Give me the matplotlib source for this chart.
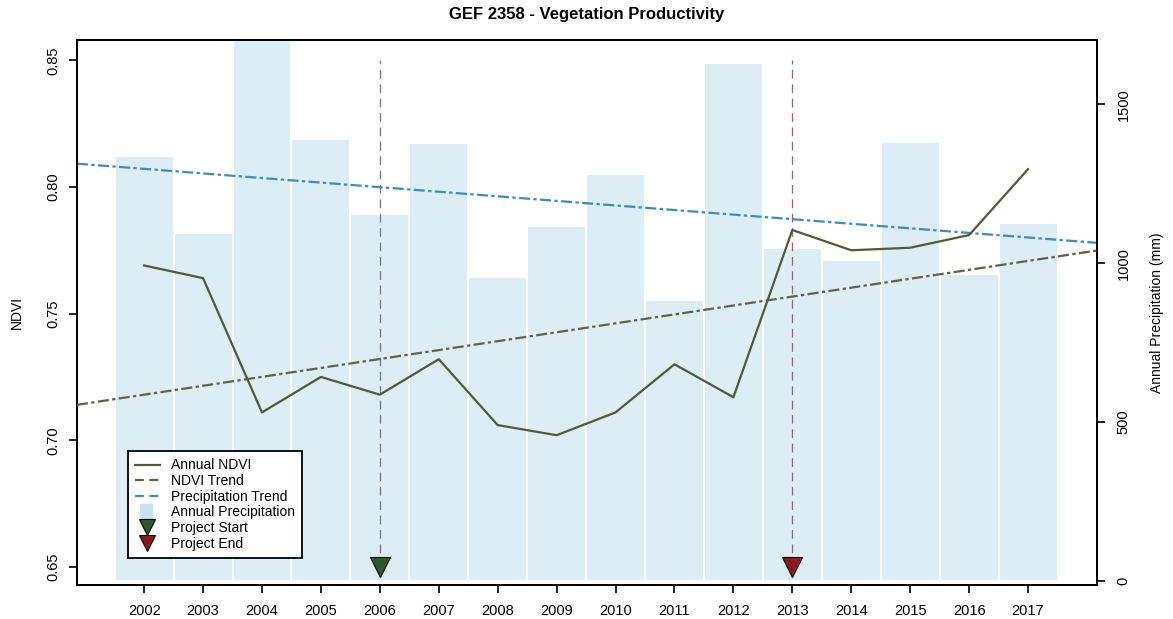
import matplotlib
matplotlib.use("Agg")
import matplotlib.pyplot as plt
from matplotlib.lines import Line2D
from matplotlib.patches import Patch, Rectangle
from matplotlib.legend_handler import HandlerPatch
import numpy as np

plt.rcParams['font.family'] = ['Liberation Sans', 'DejaVu Sans']

# data
years = [2002, 2003, 2004, 2005, 2006, 2007, 2008, 2009,
         2010, 2011, 2012, 2013, 2014, 2015, 2016, 2017]
ndvi = [0.769, 0.764, 0.711, 0.725, 0.718, 0.732, 0.706, 0.702,
        0.711, 0.730, 0.717, 0.783, 0.775, 0.776, 0.781, 0.807]
precip = [1339, 1096, 1760, 1392, 1156, 1377, 957, 1118,
          1282, 884, 1629, 1048, 1010, 1383, 966, 1127]

# trend lines: value in 2002 and slope per year
ndvi_trend = (0.718, 0.00352)
precip_trend = (1297, -14.4)

project_start = 2006
project_end = 2013

ndvi_col = '#4f5c36'
trend_col = '#5f6446'
rain_col = '#3a8dbf'
bar_col = '#dcedf5'

fig = plt.figure(figsize=(11.73, 6.19), dpi=100)
ax = fig.add_axes([0.0656, 0.055, 0.8696, 0.880])
ax2 = ax.twinx()

# precipitation bars behind everything
ax2.bar(years, precip, width=1.0, color=bar_col, edgecolor='white', linewidth=1.5, zorder=1)
ax2.axline((2002, precip_trend[0]), slope=precip_trend[1], color=rain_col, lw=1.6,
           dashes=(5, 1.5, 1.5, 1.5), zorder=3)
ax2.set_ylim(-13, 1702)
ax2.set_yticks([0, 500, 1000, 1500])
ax2.set_ylabel('Annual Precipitation (mm)', fontsize=10, labelpad=14)

ax.set_zorder(ax2.get_zorder() + 1)
ax.patch.set_visible(False)

ax.plot(years, ndvi, color=ndvi_col, lw=1.6, zorder=4)
ax.axline((2002, ndvi_trend[0]), slope=ndvi_trend[1], color=trend_col, lw=1.6,
          dashes=(5, 1.5, 1.5, 1.5), zorder=3)

ax.plot([project_start, project_start], [0.65, 0.85], color='#777777', lw=0.9,
        dashes=(7, 4.5), zorder=2)
ax.plot([project_end, project_end], [0.65, 0.85], color='#9c6470', lw=0.9,
        dashes=(7, 4.5), zorder=2)
ax.plot([project_start], [0.65], marker='v', ms=14, color='#2b5a2b', mec='black', mew=0.8, ls='none', zorder=5)
ax.plot([project_end], [0.65], marker='v', ms=14, color='#8b1a1f', mec='black', mew=0.8, ls='none', zorder=5)

ax.set_xlim(2000.86, 2018.17)
ax.set_ylim(0.6429, 0.8579)
ax.set_xticks(years)
ax.set_yticks([0.65, 0.70, 0.75, 0.80, 0.85])
ax.set_yticklabels(['0.65', '0.70', '0.75', '0.80', '0.85'])
ax.set_ylabel('NDVI', fontsize=10, labelpad=16)
ax.set_title('GEF 2358 - Vegetation Productivity', fontsize=12, fontweight='bold', pad=15)

for a in (ax, ax2):
    a.tick_params(direction='out', length=6, width=1.2, labelsize=10.5)
    for s in a.spines.values():
        s.set_linewidth(1.3)
ax.tick_params(axis='x', pad=8)
ax.tick_params(axis='y', pad=6)
ax2.tick_params(axis='y', pad=8)
for lab in ax.get_yticklabels():
    lab.set_rotation(90)
    lab.set_va('center')
for lab in ax2.get_yticklabels():
    lab.set_rotation(90)
    lab.set_va('center')


def square_patch(legend, orig_handle, xdescent, ydescent, width, height, fontsize):
    side = height * 1.5
    return Rectangle((width / 2 - side / 2 - xdescent, height / 2 - side / 2 - ydescent),
                     side * 0.85, side)


handles = [
    Line2D([], [], color=ndvi_col, lw=1.6),
    Line2D([], [], color=trend_col, lw=1.6, dashes=(4, 2.5)),
    Line2D([], [], color=rain_col, lw=1.6, dashes=(4, 2.5)),
    Patch(facecolor='#c8e2ee', edgecolor='#c8e2ee'),
    Line2D([], [], marker='v', ms=12, color='#2b5a2b', mec='black', mew=0.8, ls='none'),
    Line2D([], [], marker='v', ms=12, color='#8b1a1f', mec='black', mew=0.8, ls='none'),
]
labels = ['Annual NDVI', 'NDVI Trend', 'Precipitation Trend', 'Annual Precipitation',
          'Project Start', 'Project End']
leg = ax.legend(handles, labels, loc='lower left', bbox_to_anchor=(0.05, 0.05),
                borderaxespad=0, fancybox=False, framealpha=1, edgecolor='black',
                fontsize=10, labelspacing=0.12, handlelength=1.8, handletextpad=0.8,
                borderpad=0.5, handler_map={Patch: HandlerPatch(patch_func=square_patch)})
leg.get_frame().set_linewidth(1.3)

fig.savefig('out.png', dpi=100)
